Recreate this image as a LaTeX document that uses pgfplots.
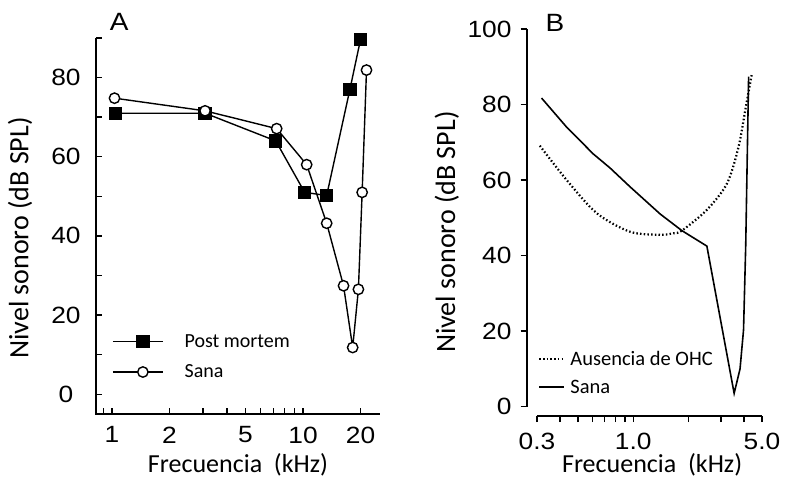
\documentclass[border=0pt]{standalone}
\usepackage{fontspec}
\setmainfont{Carlito}
\newfontfamily\arialfont[FakeStretch=1.12]{Liberation Sans}
\usepackage{pgfplots}
\pgfplotsset{compat=1.18}

\begin{document}
\begin{tikzpicture}
\useasboundingbox (0pt,0pt) rectangle (789pt,483pt);

% ---------- panel A ----------
\begin{axis}[
  at={(96pt,69pt)}, anchor=south west,
  scale only axis, width=284pt, height=376pt,
  xmode=log, xmin=0.824, xmax=25.3, ymin=-5, ymax=90,
  clip=false,
  axis line style={draw=none},
  xtick pos=bottom, ytick pos=left, tick align=inside,
  xtick={1,2,5,10,20}, xticklabels={1,2,5,10,20},
  minor xtick={0.9,3,4,6,7,8,9},
  ytick={0,20,...,80}, minor ytick={10,30,...,90},
  major tick length=6pt, minor tick length=6pt,
  every tick/.style={black, line width=1.4pt},
  /pgf/number format/assume math mode=true,
  tick label style={font=\arialfont\fontsize{23.5}{23.5}\selectfont, inner sep=0pt},
  yticklabel style={anchor=center, xshift=-30pt},
  xticklabel style={yshift=-12.5pt},
  label style={font=\fontsize{26}{26}\selectfont},
  xlabel={Frecuencia\ \ (kHz)},
  ylabel={Nivel sonoro (dB SPL)},
  xlabel style={at={(axis description cs:0.5,-0.1356)}, anchor=center},
  ylabel style={at={(axis description cs:-0.2676,0.468)}, anchor=center,
    font=\fontsize{28}{28}\selectfont},
  legend image code/.code={
    \draw[#1, mark=none] (0pt,0pt) -- (50pt,0pt);
    \draw[#1] plot coordinates {(30pt,0pt)};},
  legend cell align=left,
  legend style={draw=none, fill=none, inner sep=0pt,
    at={(axis description cs:0.0563,0.152)}, anchor=west,
    nodes={inner sep=0pt}, column sep=21pt, row sep=16pt,
    font=\fontsize{20}{20}\selectfont},
]
\draw[line width=1.8pt] (rel axis cs:0,1) -- (rel axis cs:0,0) -- (rel axis cs:1,0);

\addplot[black, line width=1.4pt, mark=square*, mark size=6pt,
  mark options={solid, fill=black}] coordinates {
  (1.04,71) (3.07,71) (7.2,64) (10.2,51) (13.3,50.2) (17.6,77) (20,89.6)
};
\addplot[black, line width=1.4pt, mark=*, mark size=5.2pt,
  mark options={solid, fill=white}] coordinates {
  (1.03,74.8) (3.07,71.6) (7.28,67.1) (10.45,58) (13.3,43.2)
  (16.3,27.4) (18.2,11.8) (19.5,26.5) (20.4,51) (21.5,81.9)
};
\legend{Post mortem, Sana}
\end{axis}

% ---------- panel B ----------
\begin{axis}[
  at={(526.7pt,67pt)}, anchor=south west,
  scale only axis, width=235.3pt, height=387pt,
  xmode=log, xmin=0.264, xmax=5, ymin=-2.5, ymax=100,
  clip=false,
  axis line style={draw=none},
  xtick pos=bottom, ytick pos=left, tick align=outside,
  xtick={0.3,1,5}, xticklabels={0.3,1.0,5.0},
  minor xtick={0.4,0.5,0.6,0.7,0.8,0.9,2,3,4},
  ytick={0,20,...,100},
  major tick length=6pt, minor tick length=6pt,
  every tick/.style={black, line width=1.4pt},
  /pgf/number format/assume math mode=true,
  tick label style={font=\arialfont\fontsize{23.5}{23.5}\selectfont, inner sep=0pt},
  yticklabel style={xshift=-9pt},
  xticklabel style={yshift=-10.5pt},
  label style={font=\fontsize{26}{26}\selectfont},
  xlabel={Frecuencia\ \ (kHz)},
  ylabel={Nivel sonoro (dB SPL)},
  xlabel style={at={(axis description cs:0.533,-0.1266)}, anchor=center},
  ylabel style={at={(axis description cs:-0.340,0.475)}, anchor=center,
    font=\fontsize{28}{28}\selectfont},
  legend image code/.code={
    \draw[#1] (0pt,0pt) -- (25pt,0pt);},
  legend cell align=left,
  legend style={draw=none, fill=none, inner sep=0pt,
    at={(axis description cs:0.048,0.111)}, anchor=west,
    nodes={inner sep=0pt}, column sep=5pt, row sep=12.5pt,
    font=\fontsize{20.5}{20.5}\selectfont},
]
\draw[line width=1.8pt] (axis cs:0.3,-2.5) -- (axis cs:5,-2.5);
\draw[line width=1.8pt] (axis cs:0.264,0) -- (axis cs:0.264,100);

\addplot[black, line width=2.2pt, dash pattern=on 1.5pt off 2.2pt, smooth]
coordinates {
  (0.311,69.1) (0.435,60.0) (0.634,51.2) (0.961,46.3) (1.40,45.5)
  (1.65,45.9) (1.837,46.6) (2.51,52.1) (3.23,59.1) (3.73,68.8)
  (4.06,78.6) (4.41,88.3)
};
\addplot[black, line width=1.6pt] coordinates {
  (0.318,81.7) (0.435,74.0) (0.607,66.9) (0.748,63.2) (0.961,58.2)
  (1.40,51.0) (1.837,46.6) (2.51,42.5) (3.53,3.5) (3.80,10.0)
  (3.97,20.3) (4.08,42.8) (4.23,87.4)
};
\legend{Ausencia de OHC, Sana}
\end{axis}

\node[font=\arialfont\fontsize{25}{25}\selectfont] at (119.3pt,460.7pt) {A};
\node[font=\arialfont\fontsize{25}{25}\selectfont] at (555pt,460.5pt) {B};
\end{tikzpicture}
\end{document}
